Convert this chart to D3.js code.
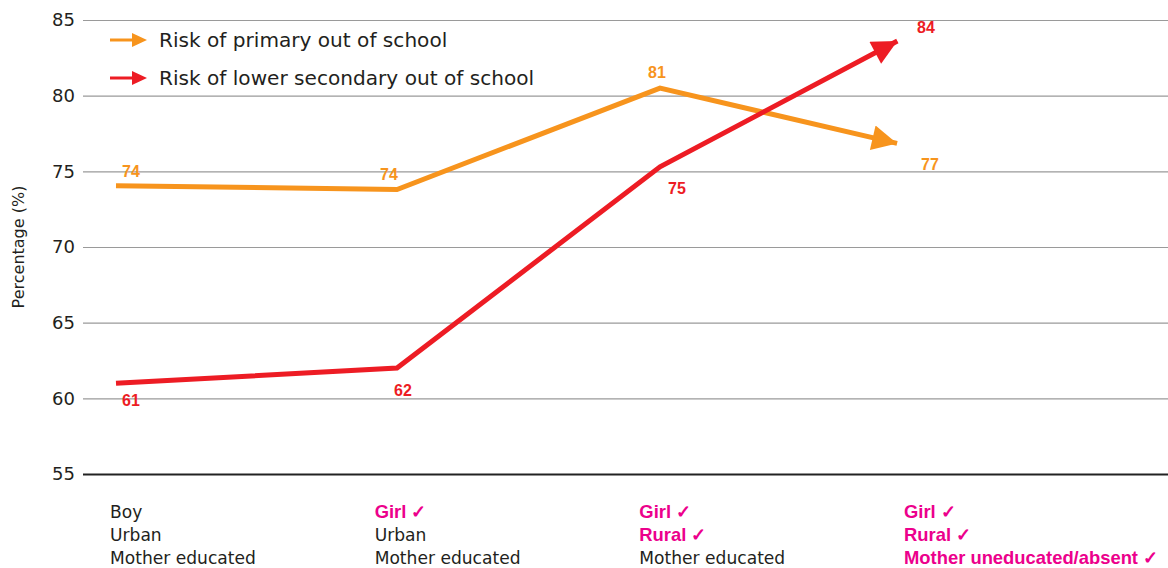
<!DOCTYPE html>
<html>
<head>
<meta charset="utf-8">
<script src="https://cdn.jsdelivr.net/npm/d3@7"></script>
<style>
  body { margin: 0; background: #fff; }
  text { font-family: "DejaVu Sans", "Liberation Sans", sans-serif; }
</style>
</head>
<body>
<svg id="chart" width="1168" height="568"></svg>
<script>
// data
var seriesNames = ["Risk of primary out of school", "Risk of lower secondary out of school"];
var primaryValues = [74.05, 73.8, 80.5, 76.8];
var primaryLabels = ["74", "74", "81", "77"];
var secondaryValues = [61.0, 62.0, 75.3, 83.7];
var secondaryLabels = ["61", "62", "75", "84"];
var yTicks = [55, 60, 65, 70, 75, 80, 85];
// each category: three lines, [text, highlighted?]
var categories = [
  [["Boy", false], ["Urban", false], ["Mother educated", false]],
  [["Girl \u2713", true], ["Urban", false], ["Mother educated", false]],
  [["Girl \u2713", true], ["Rural \u2713", true], ["Mother educated", false]],
  [["Girl \u2713", true], ["Rural \u2713", true], ["Mother uneducated/absent \u2713", true]]
];

var svg = d3.select("#chart");
var orange = "#F7941D", red = "#ED1C24", magenta = "#EC008C", ink = "#231F20";

var y = d3.scaleLinear().domain([55, 85]).range([474, 20]);
var x = d3.scaleLinear().domain([0, 1, 2, 3]).range([116, 397, 660, 900]);
var xCat = d3.scalePoint().domain(d3.range(4)).range([110, 904]);

// arrow markers
var defs = svg.append("defs");
[["arrow-o", orange], ["arrow-r", red]].forEach(function(m) {
  defs.append("marker")
      .attr("id", m[0])
      .attr("viewBox", "0 0 10 10")
      .attr("refX", 10).attr("refY", 5)
      .attr("markerWidth", 6).attr("markerHeight", 5)
      .attr("markerUnits", "strokeWidth")
      .attr("orient", "auto")
    .append("path")
      .attr("d", "M0,0 L10,5 L0,10 Z")
      .attr("fill", m[1]);
});

// grid
var grid = svg.append("g")
    .attr("transform", "translate(83,0)")
    .call(d3.axisLeft(y).tickValues(yTicks).tickSize(-1085).tickPadding(10));
grid.select(".domain").remove();
grid.selectAll(".tick line")
    .attr("stroke", function(d) { return d === 55 ? "#222" : "#9a9a9a"; })
    .attr("stroke-width", function(d) { return d === 55 ? 2 : 1.2; });
grid.selectAll(".tick text")
    .attr("fill", ink)
    .style("font-size", "18px")
    .attr("x", -8);

svg.append("text")
    .attr("transform", "translate(24,247) rotate(-90)")
    .attr("text-anchor", "middle")
    .attr("fill", ink)
    .style("font-size", "16px")
    .text("Percentage (%)");

// shorten last segment so arrow tip lands on the point
function pathData(vals) {
  var pts = vals.map(function(v, i) { return [x(i), y(v)]; });
  var a = pts[pts.length - 2], b = pts[pts.length - 1];
  var dx = b[0] - a[0], dy = b[1] - a[1], len = Math.sqrt(dx * dx + dy * dy);
  pts[pts.length - 1] = [b[0] - dx / len * 3, b[1] - dy / len * 3];
  return d3.line()(pts);
}

svg.append("path")
    .attr("d", pathData(primaryValues))
    .attr("fill", "none").attr("stroke", orange).attr("stroke-width", 5)
    .attr("marker-end", "url(#arrow-o)");

svg.append("path")
    .attr("d", pathData(secondaryValues))
    .attr("fill", "none").attr("stroke", red).attr("stroke-width", 5)
    .attr("marker-end", "url(#arrow-r)");

// value labels (offsets from each point)
var primaryOff = [[15, -9], [-8, -9], [-3, -10], [30, 26]];
var secondaryOff = [[15, 23], [6, 28], [17, 27], [26, -7]];

function addLabels(vals, labels, off, color) {
  svg.append("g").selectAll("text")
    .data(vals)
    .enter().append("text")
      .attr("x", function(d, i) { return x(i) + off[i][0]; })
      .attr("y", function(d, i) { return y(d) + off[i][1]; })
      .attr("text-anchor", "middle")
      .attr("fill", color)
      .style("font-family", "'Liberation Sans', Arial, sans-serif")
      .style("font-size", "16px")
      .style("font-weight", "bold")
      .text(function(d, i) { return labels[i]; });
}
addLabels(primaryValues, primaryLabels, primaryOff, orange);
addLabels(secondaryValues, secondaryLabels, secondaryOff, red);

// legend
var legend = svg.append("g").selectAll("g")
    .data(seriesNames)
    .enter().append("g")
    .attr("transform", function(d, i) { return "translate(110," + (40 + i * 38) + ")"; });

legend.append("line")
    .attr("x1", 0).attr("x2", 25).attr("y1", 0).attr("y2", 0)
    .attr("stroke", function(d, i) { return i ? red : orange; })
    .attr("stroke-width", 3);
legend.append("path")
    .attr("d", "M22,-7 L37,0 L22,7 Z")
    .attr("fill", function(d, i) { return i ? red : orange; });
legend.append("text")
    .attr("x", 49).attr("y", 7)
    .attr("fill", ink)
    .style("font-size", "20.1px")
    .text(function(d) { return d; });

// category labels
var cat = svg.append("g").selectAll("g")
    .data(categories)
    .enter().append("g")
    .attr("transform", function(d, i) { return "translate(" + xCat(i) + ",0)"; });

cat.selectAll("text")
    .data(function(d) { return d; })
    .enter().append("text")
      .attr("x", 0)
      .attr("y", function(d, i) { return 518 + i * 23; })
      .attr("fill", function(d) { return d[1] ? magenta : ink; })
      .style("font-family", function(d) { return d[1] ? "'Liberation Sans', Arial, sans-serif" : null; })
      .style("font-size", function(d) { return d[1] ? "18.4px" : "17.1px"; })
      .style("font-weight", function(d) { return d[1] ? "bold" : "normal"; })
      .text(function(d) { return d[0]; });
</script>
</body>
</html>
